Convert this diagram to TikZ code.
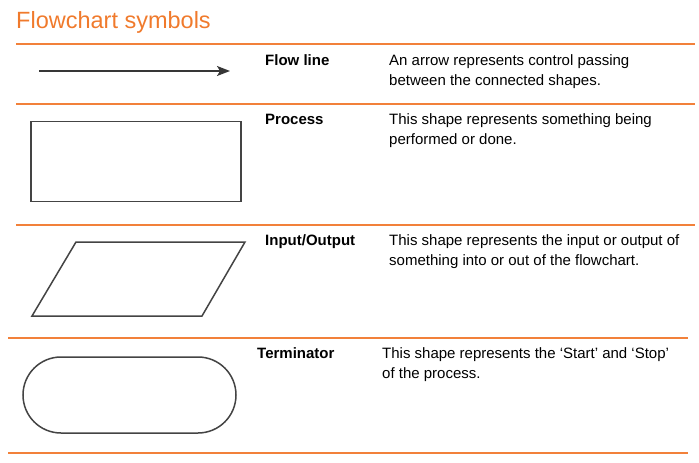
\documentclass[tikz,border=0pt]{standalone}
\usepackage{fontspec}
\setmainfont{Liberation Sans}
\usetikzlibrary{arrows.meta}
\definecolor{orangeline}{HTML}{F2813A}
\definecolor{titleorange}{HTML}{F07A2C}
\definecolor{shapegray}{HTML}{444444}
\tikzset{
  rule/.style={draw=orangeline, line width=1.3pt},
  label/.style={anchor=base west, inner sep=0pt, font=\fontsize{15}{20}\selectfont\bfseries},
  desc/.style={anchor=base west, inner sep=0pt, align=left, font=\fontsize{15}{20}\selectfont},
  symbolshape/.style={draw=shapegray, line width=1.5pt, fill=white, inner sep=0pt},
  flowarrow/.style={draw=shapegray!80!black, line width=1.5pt, -{Stealth[length=13pt,width=10pt,inset=3pt]}}
}
\begin{document}
\begin{tikzpicture}[x=1pt,y=-1pt]
\useasboundingbox (0,0) rectangle (699,463);
% title
\node[anchor=base west, inner sep=0pt, text=titleorange, font=\fontsize{23.5}{28}\selectfont] (title) at (16,28) {Flowchart symbols};
% rules
\draw[rule] (16,44) -- (695,44);
\draw[rule] (16,104) -- (695,104);
\draw[rule] (16,225) -- (695,225);
\draw[rule] (8,338) -- (688,338);
\draw[rule] (8,453) -- (688,453);
% flow line row
\coordinate (arrowstart) at (39,71);
\coordinate (arrowend) at (230,71);
\draw[flowarrow] (arrowstart) -- (arrowend);
\node[label] (flowlabel) at (265,65) {Flow line};
\node[desc] (flowdesc) at (389,85) {An arrow represents control passing\\between the connected shapes.};
% process row
\node[symbolshape, minimum width=210pt, minimum height=80pt] (process) at (136,161.7) {};
\node[label] (processlabel) at (265,124.5) {Process};
\node[desc] (processdesc) at (389,144.5) {This shape represents something being\\performed or done.};
% input/output row
\coordinate (io1) at (76,242);
\coordinate (io2) at (245,242);
\coordinate (io3) at (202,316);
\coordinate (io4) at (32,316);
\draw[symbolshape, line join=miter] (io1) -- (io2) -- (io3) -- (io4) -- cycle;
\node[label] (iolabel) at (265,245.5) {Input/Output};
\node[desc] (iodesc) at (389,265.5) {This shape represents the input or output of\\something into or out of the flowchart.};
% terminator row
\node[symbolshape, minimum width=213pt, minimum height=76pt, rounded corners=38pt] (terminator) at (129.5,395) {};
\node[label] (termlabel) at (257,358.5) {Terminator};
\node[desc] (termdesc) at (382,378.5) {This shape represents the ‘Start’ and ‘Stop’\\of the process.};
\end{tikzpicture}
\end{document}
